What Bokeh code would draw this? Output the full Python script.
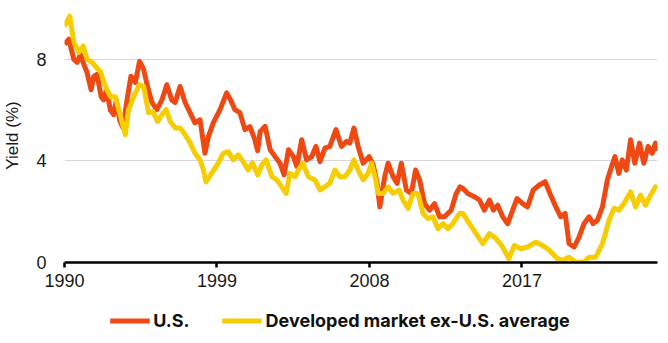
from bokeh.plotting import figure
from bokeh.layouts import column
from bokeh.models import Range1d, FixedTicker, Legend, LegendItem
from bokeh.embed import file_html
from bokeh.resources import INLINE

# ---- data ----
us_years = [1990.0, 1990.25, 1990.55, 1990.75, 1990.94, 1991.14, 1991.33, 1991.57, 1991.73, 1991.92,
            1992.16, 1992.31, 1992.47, 1992.71, 1992.9, 1993.06, 1993.25, 1993.45, 1993.69, 1993.92,
            1994.18, 1994.43, 1994.67, 1994.9, 1995.16, 1995.45, 1995.75, 1996.04, 1996.33, 1996.53,
            1996.82, 1997.12, 1997.41, 1997.7, 1998.0, 1998.29, 1998.49, 1998.78, 1999.18, 1999.57,
            1999.8, 2000.06, 2000.35, 2000.65, 2000.94, 2001.24, 2001.4, 2001.55, 2001.84, 2002.14,
            2002.43, 2002.72, 2002.96, 2003.22, 2003.51, 2003.71, 2004.0, 2004.29, 2004.59, 2004.84,
            2005.08, 2005.37, 2005.66, 2006.02, 2006.35, 2006.65, 2006.84, 2007.08, 2007.33, 2007.63,
            2007.98, 2008.22, 2008.45, 2008.61, 2008.9, 2009.1, 2009.39, 2009.63, 2009.88, 2010.18,
            2010.47, 2010.72, 2010.96, 2011.25, 2011.55, 2011.84, 2012.14, 2012.43, 2012.82, 2013.12,
            2013.35, 2013.51, 2013.8, 2014.19, 2014.49, 2014.78, 2015.08, 2015.31, 2015.57, 2015.86,
            2016.16, 2016.45, 2016.71, 2017.04, 2017.33, 2017.66, 2018.02, 2018.37, 2018.65, 2019.0,
            2019.29, 2019.55, 2019.78, 2020.08, 2020.37, 2020.66, 2020.96, 2021.2, 2021.45, 2021.75,
            2022.04, 2022.29, 2022.49, 2022.72, 2022.92, 2023.16, 2023.41, 2023.66, 2023.94, 2024.19,
            2024.45, 2024.69, 2024.88, 2025.0]
us_yield = [8.59, 8.79, 8.0, 7.88, 8.2, 7.8, 7.48, 6.8, 7.33, 7.41,
            6.53, 6.4, 6.8, 6.0, 5.82, 6.4, 5.62, 5.3, 6.4, 7.33,
            7.09, 7.92, 7.6, 6.93, 6.3, 6.02, 6.4, 7.0, 6.4, 6.3,
            6.93, 6.3, 5.9, 5.5, 5.62, 4.3, 4.95, 5.5, 6.02, 6.68,
            6.4, 6.02, 5.9, 5.23, 5.35, 4.83, 4.4, 5.16, 5.36, 4.44,
            4.17, 3.91, 3.45, 4.44, 4.17, 3.78, 4.83, 4.04, 4.17, 4.57,
            3.97, 4.5, 4.57, 5.23, 4.57, 4.77, 4.7, 5.29, 4.57, 3.91,
            4.17, 3.84, 3.12, 2.19, 3.38, 3.91, 3.38, 3.12, 3.91, 2.85,
            2.72, 3.64, 3.25, 2.32, 2.06, 2.32, 1.8, 1.8, 2.06, 2.72,
            2.98, 2.92, 2.72, 2.59, 2.46, 2.06, 2.46, 2.06, 2.26, 1.8,
            1.53, 2.06, 2.52, 2.32, 2.19, 2.85, 3.05, 3.18, 2.72, 2.19,
            1.8, 1.93, 0.74, 0.61, 1.0, 1.53, 1.8, 1.53, 1.66, 2.19,
            3.25, 3.78, 4.17, 3.51, 4.04, 3.64, 4.83, 3.91, 4.7, 3.91,
            4.57, 4.3, 4.7, 4.4]

dm_years = [1990.0, 1990.31, 1990.55, 1990.84, 1991.1, 1991.33, 1991.63, 1991.88, 1992.12, 1992.41,
            1992.71, 1993.0, 1993.25, 1993.59, 1993.78, 1994.08, 1994.43, 1994.67, 1994.96, 1995.22,
            1995.49, 1995.75, 1996.0, 1996.24, 1996.53, 1996.82, 1997.12, 1997.41, 1997.7, 1998.0,
            1998.2, 1998.35, 1998.69, 1999.08, 1999.37, 1999.67, 1999.96, 2000.25, 2000.55, 2000.84,
            2001.1, 2001.4, 2001.65, 2001.9, 2002.24, 2002.53, 2002.82, 2003.08, 2003.31, 2003.61,
            2003.8, 2004.06, 2004.39, 2004.78, 2005.08, 2005.37, 2005.66, 2005.96, 2006.25, 2006.55,
            2006.84, 2007.08, 2007.33, 2007.63, 2007.92, 2008.12, 2008.37, 2008.51, 2008.81, 2009.1,
            2009.39, 2009.75, 2009.98, 2010.28, 2010.57, 2010.86, 2011.16, 2011.45, 2011.75, 2012.04,
            2012.33, 2012.63, 2012.92, 2013.31, 2013.51, 2013.9, 2014.29, 2014.69, 2015.08, 2015.47,
            2015.86, 2016.22, 2016.55, 2016.94, 2017.33, 2017.82, 2018.22, 2018.61, 2019.1, 2019.39,
            2019.78, 2020.18, 2020.66, 2020.96, 2021.35, 2021.75, 2022.14, 2022.43, 2022.72, 2023.02,
            2023.41, 2023.71, 2024.0, 2024.29, 2024.59, 2024.88, 2025.0]
dm_yield = [9.3, 9.7, 8.67, 8.27, 8.52, 8.0, 7.88, 7.68, 7.52, 6.93,
            6.53, 6.53, 5.9, 5.03, 6.02, 6.53, 7.0, 6.93, 5.9, 5.94,
            5.55, 5.82, 6.02, 5.55, 5.3, 5.3, 5.03, 4.71, 4.3, 4.04,
            3.64, 3.17, 3.52, 3.92, 4.3, 4.36, 4.04, 4.24, 3.96, 3.64,
            3.92, 3.45, 3.84, 4.04, 3.38, 3.25, 2.98, 2.72, 3.51, 3.38,
            3.64, 3.91, 3.38, 3.25, 2.85, 2.98, 3.12, 3.64, 3.38, 3.38,
            3.64, 4.04, 3.64, 3.25, 3.51, 3.91, 3.25, 2.72, 2.72, 2.98,
            2.72, 2.85, 2.46, 2.13, 2.72, 2.72, 1.93, 1.73, 1.8, 1.33,
            1.53, 1.33, 1.53, 1.93, 1.93, 1.53, 1.14, 0.74, 1.14, 0.94,
            0.61, 0.15, 0.67, 0.54, 0.61, 0.8, 0.67, 0.48, 0.15, 0.08,
            0.21, 0.01, 0.01, 0.21, 0.21, 0.74, 1.66, 2.13, 2.06, 2.32,
            2.78, 2.19, 2.65, 2.26, 2.65, 2.98, 2.92]

x_ticks = [1990, 1999, 2008, 2017]
y_ticks = [0, 4, 8]
series_names = ["U.S.", "Developed market ex-U.S. average"]
colors = ["#EF4813", "#F6CD00"]

# ---- main chart ----
p = figure(width=668, height=300, output_backend="svg", toolbar_location=None,
           x_range=Range1d(1990, 2025), y_range=Range1d(0, 10),
           min_border_left=62, min_border_right=11, min_border_top=8, min_border_bottom=38)
p.outline_line_color = None
p.background_fill_color = "white"
p.border_fill_color = "white"

p.line(us_years, us_yield, line_color=colors[0], line_width=5, line_join="round")
p.line(dm_years, dm_yield, line_color=colors[1], line_width=5, line_join="round")

xa = p.xaxis[0]
xa.ticker = FixedTicker(ticks=x_ticks)
xa.minor_tick_line_color = None
xa.axis_line_color = "black"
xa.axis_line_width = 2.5
xa.major_tick_line_color = "black"
xa.major_tick_line_width = 2.5
xa.major_tick_in = 0
xa.major_tick_out = 5
xa.major_label_standoff = 6
xa.major_label_text_font = "Liberation Sans"
xa.major_label_text_font_size = "18px"
xa.major_label_text_color = "#1a1a1a"

ya = p.yaxis[0]
ya.ticker = FixedTicker(ticks=y_ticks)
ya.axis_line_color = None
ya.major_tick_line_color = None
ya.minor_tick_line_color = None
ya.major_tick_in = 0
ya.major_tick_out = 0
ya.major_label_standoff = 18
ya.major_label_text_font = "Liberation Sans"
ya.major_label_text_font_size = "18px"
ya.major_label_text_color = "#1a1a1a"
ya.axis_label = "Yield (%)"
ya.axis_label_text_font = "Liberation Sans"
ya.axis_label_text_font_style = "normal"
ya.axis_label_text_font_size = "17px"
ya.axis_label_text_color = "#1a1a1a"
ya.axis_label_standoff = 11

p.xgrid.grid_line_color = None
p.ygrid.grid_line_color = "#D6D6E2"
p.ygrid.grid_line_width = 1.2
p.ygrid.ticker = FixedTicker(ticks=[4, 8])

# ---- legend strip (series drawn off-view; only the legend shows) ----
lg = figure(width=626, height=40, output_backend="svg", toolbar_location=None,
            x_range=Range1d(0, 1), y_range=Range1d(100, 101),
            min_border_left=0, min_border_right=0, min_border_top=0, min_border_bottom=0)
lg.title.visible = False
lg.outline_line_color = None
lg.axis.visible = False
lg.grid.grid_line_color = None
lg.border_fill_color = "white"
lg.background_fill_color = "white"
l_us = lg.line(us_years, us_yield, line_color=colors[0], line_width=5)
l_dm = lg.line(dm_years, dm_yield, line_color=colors[1], line_width=5)
legend = Legend(items=[LegendItem(label=series_names[0], renderers=[l_us]),
                       LegendItem(label=series_names[1], renderers=[l_dm])],
                orientation="horizontal", location="center",
                glyph_width=40, glyph_height=18, label_height=18,
                label_standoff=4, spacing=32, padding=5, margin=0,
                label_text_font="Inter", label_text_font_style="bold",
                label_text_font_size="18px", label_text_color="#111111",
                border_line_color=None, background_fill_alpha=0)
lg.add_layout(legend, "center")

layout = column(p, lg, spacing=0)
open("out.html", "w").write(file_html(layout, INLINE))
